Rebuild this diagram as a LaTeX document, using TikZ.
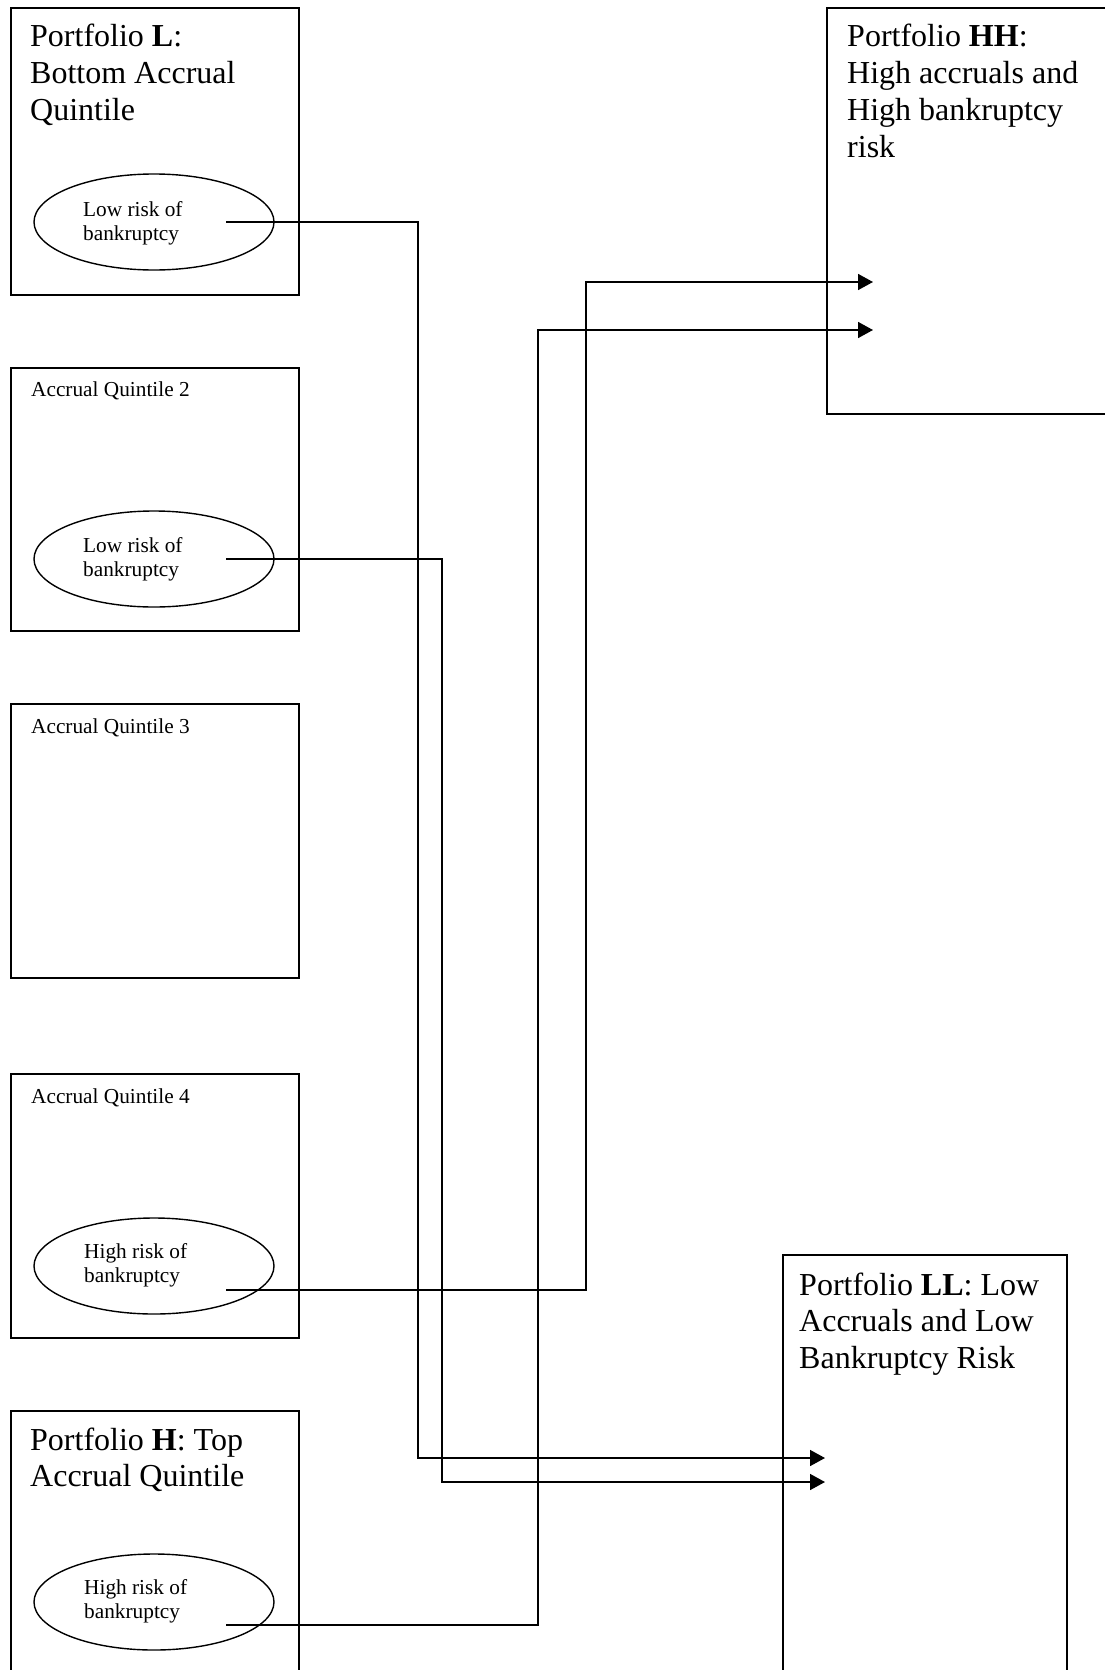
\documentclass[tikz,border=0pt]{standalone}
\usepackage{fontspec}
\setmainfont{Liberation Serif}
\usetikzlibrary{arrows.meta,shapes.geometric}
\newcommand{\bigtxt}{\fontsize{32}{36.7}\selectfont}
\newcommand{\smalltxt}{\fontsize{21.3}{24.5}\selectfont}
\newcommand{\mlines}[1]{\begin{tabular}[t]{@{}l@{}}#1\end{tabular}}
\begin{document}
\begin{tikzpicture}[x=1pt,y=-1pt,
  boxnode/.style={draw,line width=2pt,rectangle,inner sep=0pt,anchor=north west},
  oval/.style={draw,line width=1.4pt,ellipse,inner sep=0pt,minimum width=240pt,minimum height=96pt},
  title/.style={anchor=base west,inner sep=0pt,font=\bigtxt},
  small/.style={anchor=base west,inner sep=0pt,font=\smalltxt},
  conn/.style={line width=1.6pt,-{Triangle[length=15pt,width=16pt]}}]
\useasboundingbox (0,0) rectangle (1105,1670);
\clip (0,0) rectangle (1105,1670);
% left column boxes
\node[boxnode,minimum width=288pt,minimum height=287pt] (bL) at (10,7) {};
\node[boxnode,minimum width=288pt,minimum height=263pt] (b2) at (10,367) {};
\node[boxnode,minimum width=288pt,minimum height=274pt] (b3) at (10,703) {};
\node[boxnode,minimum width=288pt,minimum height=264pt] (b4) at (10,1073) {};
\node[boxnode,minimum width=288pt,minimum height=320pt] (bH) at (10,1410) {};
% right boxes
\node[boxnode,minimum width=320pt,minimum height=406pt] (bHH) at (826,7) {};
\node[boxnode,minimum width=284pt,minimum height=460pt] (bLL) at (782,1254) {};
% titles
\node[title] (tL) at (30,47) {\mlines{Portfolio \textbf{L}:\\Bottom Accrual\\Quintile}};
\node[small] (t2) at (31,396) {Accrual Quintile 2};
\node[small] (t3) at (31,733) {Accrual Quintile 3};
\node[small] (t4) at (31,1103) {Accrual Quintile 4};
\node[title] (tH) at (30,1450) {\mlines{Portfolio \textbf{H}: Top\\Accrual Quintile}};
\node[title] (tHH) at (847,47) {\mlines{Portfolio \textbf{HH}:\\High accruals and\\High bankruptcy\\risk}};
\node[title] (tLL) at (799,1295) {\mlines{Portfolio \textbf{LL}: Low\\Accruals and Low\\Bankruptcy Risk}};
% ellipses
\node[oval] (eL) at (154,222) {};
\node[oval] (e2) at (154,559) {};
\node[oval] (e4) at (154,1266) {};
\node[oval] (eH) at (154,1602) {};
\node[small] (sL) at (83,216) {\mlines{Low risk of\\bankruptcy}};
\node[small] (s2) at (83,552) {\mlines{Low risk of\\bankruptcy}};
\node[small] (s4) at (84,1258) {\mlines{High risk of\\bankruptcy}};
\node[small] (sH) at (84,1594) {\mlines{High risk of\\bankruptcy}};
% arrow targets and routing columns
\coordinate (aLL1) at (825,1458);
\coordinate (aLL2) at (825,1482);
\coordinate (aHH1) at (873,282);
\coordinate (aHH2) at (873,330);
\coordinate (c1) at (418,0);
\coordinate (c2) at (442,0);
\coordinate (c3) at (586,0);
\coordinate (c4) at (538,0);
% connectors
\draw[conn] ([xshift=72pt]eL.center) -| (c1 |- aLL1) -- (aLL1);
\draw[conn] ([xshift=72pt]e2.center) -| (c2 |- aLL2) -- (aLL2);
\draw[conn] ([xshift=72pt,yshift=-24pt]e4.center) -| (c3 |- aHH1) -- (aHH1);
\draw[conn] ([xshift=72pt,yshift=-23pt]eH.center) -| (c4 |- aHH2) -- (aHH2);
\end{tikzpicture}
\end{document}
